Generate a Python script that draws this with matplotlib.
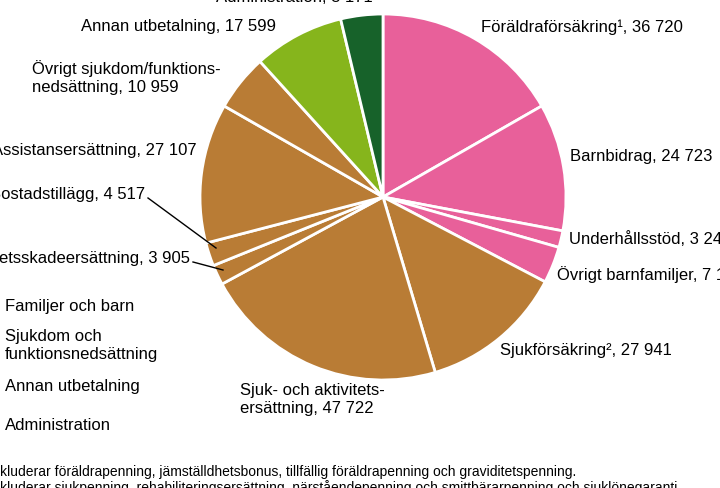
import matplotlib
matplotlib.use("Agg")
import matplotlib.pyplot as plt

plt.rcParams['font.family'] = ['Liberation Sans', 'DejaVu Sans']

categories = ["Föräldraförsäkring¹", "Barnbidrag", "Underhållsstöd", "Övrigt barnfamiljer",
              "Sjukförsäkring²", "Sjuk- och aktivitetsersättning", "Arbetsskadeersättning",
              "Bostadstillägg", "Assistansersättning", "Övrigt sjukdom/funktionsnedsättning",
              "Annan utbetalning", "Administration"]
values = [36720, 24723, 3245, 7100, 27941, 47722, 3905, 4517, 27107, 10959, 17599, 8171]
groups = ["fam", "fam", "fam", "fam", "sjuk", "sjuk", "sjuk", "sjuk", "sjuk", "sjuk", "annan", "adm"]
group_colors = {"fam": "#E8609A", "sjuk": "#B97C35", "annan": "#86B51C", "adm": "#17622A"}
legend_labels = ["Familjer och barn", "Sjukdom och\nfunktionsnedsättning", "Annan utbetalning", "Administration"]

W, H = 720, 488
fig = plt.figure(figsize=(7.2, 4.88), dpi=100)
ax = fig.add_axes([0, 0, 1, 1])

ax.pie(values, colors=[group_colors[g] for g in groups], startangle=90, counterclock=False,
       center=(383, H - 197), radius=183,
       wedgeprops=dict(edgecolor='white', linewidth=2))
ax.set_xlim(0, W); ax.set_ylim(0, H)
ax.set_aspect('equal'); ax.axis('off')

fs = 12
def t(x, y, s, ha='left', size=fs):
    ax.text(x, H - y, s, ha=ha, va='center', fontsize=size, color='black', linespacing=1.25)

t(373, -2, "Administration, 8 171", ha='right')
t(276, 27, "Annan utbetalning, 17 599", ha='right')
t(32, 78, "Övrigt sjukdom/funktions-\nnedsättning, 10 959")
t(197, 150, "Assistansersättning, 27 107", ha='right')
t(145, 195, "Bostadstillägg, 4 517", ha='right')
t(190, 258, "Arbetsskadeersättning, 3 905", ha='right')
t(481, 27, "Föräldraförsäkring¹, 36 720")
t(570, 157, "Barnbidrag, 24 723")
t(569, 239, "Underhållsstöd, 3 245")
t(557, 275, "Övrigt barnfamiljer, 7 100")
t(500, 350, "Sjukförsäkring², 27 941")
t(240, 400, "Sjuk- och aktivitets-\nersättning, 47 722")
ax.plot([148, 216], [H - 198, H - 248], color='black', lw=1)
ax.plot([193, 223], [H - 262, H - 270], color='black', lw=1)

t(5, 307, legend_labels[0])
t(5, 346, legend_labels[1])
t(5, 386, legend_labels[2])
t(5, 426, legend_labels[3])
for y, g in zip([307, 346, 386, 426], ["fam", "sjuk", "annan", "adm"]):
    ax.add_patch(plt.Rectangle((-30, H - y - 8), 22, 16, color=group_colors[g]))

t(-20, 472, "¹ Inkluderar föräldrapenning, jämställdhetsbonus, tillfällig föräldrapenning och graviditetspenning.", size=10)
t(-20, 488, "² Inkluderar sjukpenning, rehabiliteringsersättning, närståendepenning och smittbärarpenning och sjuklönegaranti.", size=10)

fig.savefig("out.png", dpi=100)
